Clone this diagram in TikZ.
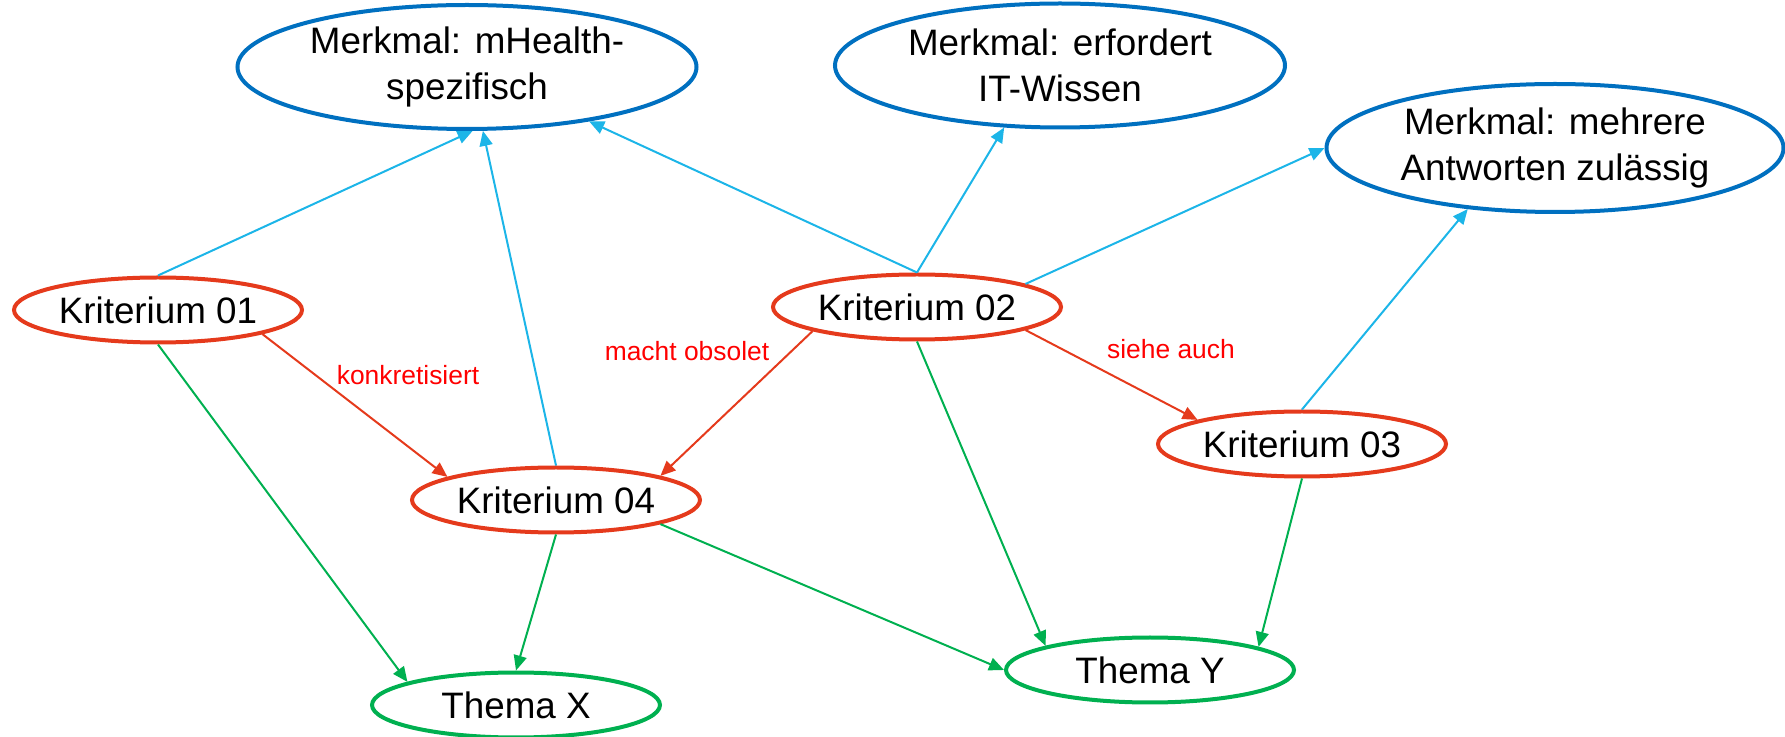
\documentclass[tikz,border=0pt]{standalone}
\usepackage{fontspec}
\setmainfont{Liberation Sans}
\usetikzlibrary{shapes.geometric,arrows.meta}
\definecolor{mblue}{HTML}{0070C0}
\definecolor{kred}{HTML}{E53A1C}
\definecolor{tgreen}{HTML}{00B050}
\definecolor{lblue}{HTML}{1CB5E8}
\definecolor{lred}{HTML}{FF0000}
\tikzset{
  ell/.style={ellipse, draw, line width=2pt, fill=white, inner sep=0pt, align=center,
    font=\fontsize{18.4pt}{23pt}\selectfont},
  merk/.style={ell, draw=mblue},
  krit/.style={ell, draw=kred, minimum width=144pt, minimum height=32.5pt},
  thema/.style={ell, draw=tgreen, minimum width=144pt, minimum height=32.5pt},
  conn/.style={line width=1pt, -{Triangle[length=7.5pt,width=6.5pt]}},
  bl/.style={conn, draw=lblue, fill=lblue},
  rd/.style={conn, draw=kred, fill=kred},
  gr/.style={conn, draw=tgreen, fill=tgreen},
  lab/.style={text=lred, anchor=base, font=\fontsize{13.2pt}{15pt}\selectfont}
}
\begin{document}
\begin{tikzpicture}[x=0.5pt,y=-0.5pt]
\useasboundingbox (0,0) rectangle (1785,737);
% nodes
\node[merk, minimum width=229.5pt, minimum height=62pt] (mh) at (467,67) {Merkmal: mHealth-\\spezifisch};
\node[merk, minimum width=225pt, minimum height=62pt] (it) at (1060,65.5) {Merkmal: erfordert\\IT-Wissen};
\node[merk, minimum width=228.5pt, minimum height=64pt] (mm) at (1555,148) {Merkmal: mehrere\\Antworten zulässig};
\node[krit] (k1) at (158,310) {Kriterium 01};
\node[krit] (k2) at (917,307) {Kriterium 02};
\node[krit] (k3) at (1302,444) {Kriterium 03};
\node[krit] (k4) at (556,500) {Kriterium 04};
\node[thema] (tx) at (516,705) {Thema X};
\node[thema] (ty) at (1150,670) {Thema Y};
% blue connectors
\draw[bl] (k1.north) -- (mh.-85);
\draw[bl] (k4.north) -- (mh.-76);
\draw[bl] (k2.north) -- (mh.-24);
\draw[bl] (k2.north) -- (it.-132);
\draw[bl] (k2.12) -- (mm.west);
\draw[bl] (k3.north) -- (mm.-145);
% red connectors
\draw[rd] (k1.-13) -- (k4.168);
\draw[rd] (k2.193) -- (k4.13);
\draw[rd] (k2.-12) -- (k3.167);
% green connectors
\draw[gr] (k1.south) -- (tx.168);
\draw[gr] (k4.south) -- (tx.north);
\draw[gr] (k4.-13) -- (ty.west);
\draw[gr] (k2.south) -- (ty.167);
\draw[gr] (k3.south) -- (ty.12);
% labels
\node[lab] (l1) at (408,385) {konkretisiert};
\node[lab] (l2) at (687,361) {macht obsolet};
\node[lab] (l3) at (1171,359) {siehe auch};
\end{tikzpicture}
\end{document}
